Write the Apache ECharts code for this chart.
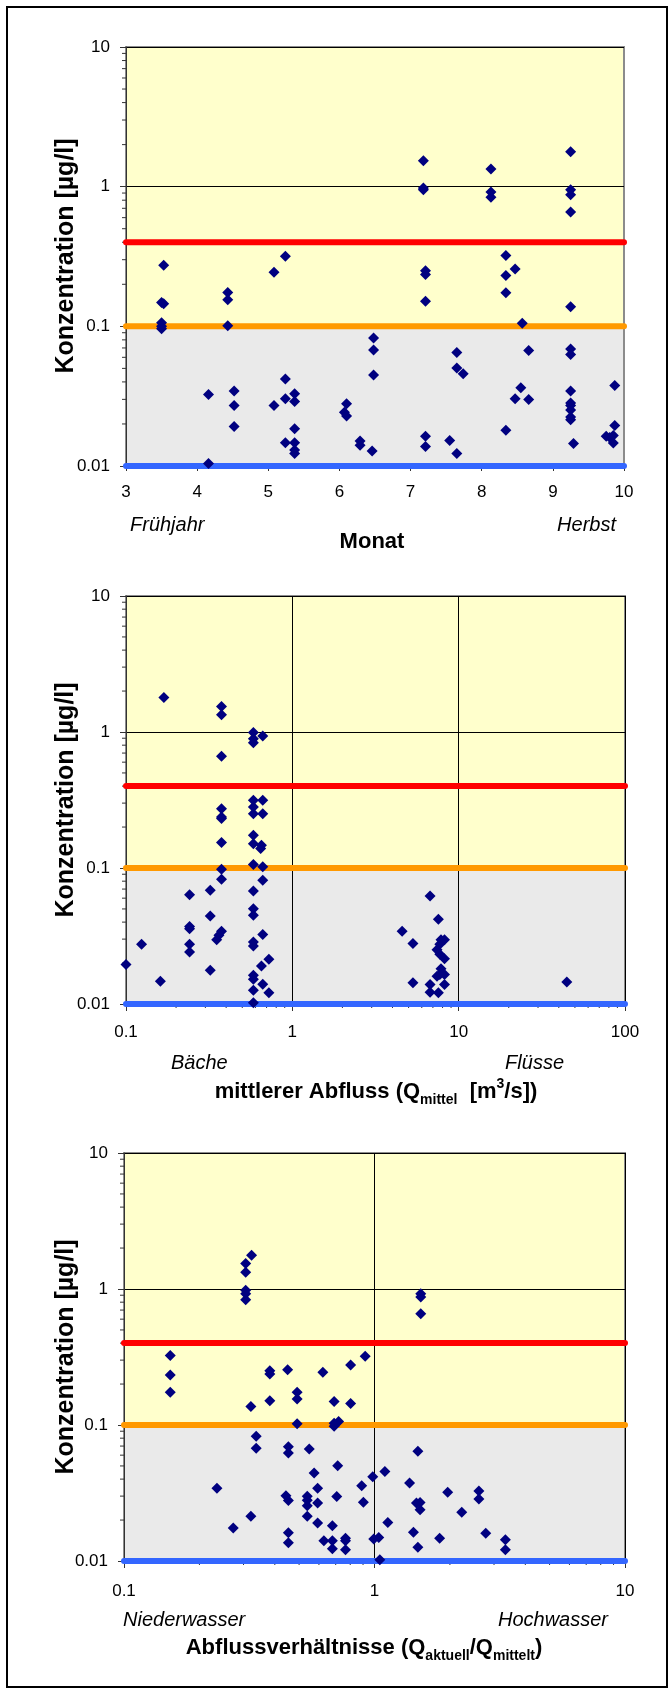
<!DOCTYPE html>
<html>
<head>
<meta charset="utf-8">
<title>Konzentration</title>
<script src="https://cdn.jsdelivr.net/npm/echarts@6/dist/echarts.min.js"></script>
<style>
  * { margin: 0; padding: 0; }
  body { background: #fff; }
  #main { width: 672px; height: 1693px; }
</style>
</head>
<body>
<div id="main"></div>
<script>
// Diagramm 1: Monat
var monatX = [3.53, 5.08, 5.24, 7.18, 7.18, 7.18, 7.21, 7.21, 8.13, 8.13, 8.13, 8.34, 8.47, 8.34, 9.25, 9.25, 9.25, 9.25,
  3.50, 3.53, 3.50, 3.50, 3.50, 4.43, 4.43, 4.43, 7.21, 8.34, 9.25, 8.57,
  6.48, 6.48, 6.48, 7.65, 7.65, 7.74, 8.66, 9.25, 9.25, 9.87,
  5.24, 4.52, 4.16, 5.37, 5.24, 5.37, 5.08, 4.52, 4.52,
  6.10, 6.07, 6.10, 5.37, 5.24, 5.37, 5.37, 5.37,
  6.29, 6.29, 6.46, 4.16,
  8.55, 8.47, 8.66, 8.34, 7.21, 7.21, 7.55, 7.65,
  9.25, 9.25, 9.25, 9.25, 9.25, 9.25, 9.29,
  9.87, 9.75, 9.85, 9.80, 9.85];
var monatY = [0.274, 0.244, 0.318, 1.53, 0.98, 0.95, 0.25, 0.235, 1.34, 0.916, 0.839, 0.321, 0.257, 0.231, 1.78, 0.95, 0.877, 0.659,
  0.148, 0.145, 0.106, 0.100, 0.096, 0.175, 0.155, 0.101, 0.151, 0.174, 0.138, 0.105,
  0.0826, 0.0678, 0.0449, 0.0649, 0.0504, 0.0457, 0.067, 0.0689, 0.0628, 0.0377,
  0.042, 0.0344, 0.0325, 0.0329, 0.0303, 0.029, 0.0271, 0.0271, 0.0192,
  0.0279, 0.0243, 0.0228, 0.0185, 0.0147, 0.0147, 0.0130, 0.0123,
  0.0151, 0.0141, 0.0128, 0.0104,
  0.0363, 0.0303, 0.0299, 0.018, 0.0163, 0.0138, 0.0152, 0.0123,
  0.0344, 0.0282, 0.0271, 0.0252, 0.0224, 0.0214, 0.0145,
  0.0195, 0.0163, 0.0165, 0.016, 0.0146];

// Diagramm 2: mittlerer Abfluss [m3/s]
var abflussX = [0.169, 0.375, 0.375, 0.375, 0.583, 0.583, 0.583, 0.664,
  0.375, 0.375, 0.375, 0.375, 0.375, 0.375,
  0.321, 0.241, 0.321, 0.241, 0.241, 0.375, 0.362, 0.351, 0.124, 0.241, 0.241, 0.1, 0.321, 0.161,
  0.583, 0.583, 0.583, 0.583, 0.583, 0.583, 0.583, 0.583, 0.583, 0.583, 0.583, 0.583, 0.583, 0.583, 0.583,
  0.664, 0.664, 0.652, 0.645, 0.664, 0.664, 0.664, 0.652, 0.664,
  0.723, 0.723,
  6.73, 7.55, 4.57, 5.31, 7.83, 8.22, 7.7, 7.41, 7.7, 8.22, 7.83, 7.7, 8.22, 7.41, 5.31, 6.73, 8.22, 6.73, 7.55, 44.7];
var abflussY = [1.79, 1.54, 1.34, 0.662, 0.99, 0.893, 0.835, 0.935,
  0.273, 0.237, 0.231, 0.154, 0.098, 0.0826,
  0.0686, 0.0637, 0.0444, 0.0372, 0.0358, 0.0342, 0.032, 0.0297, 0.0275, 0.0275, 0.0241, 0.0195, 0.0177, 0.0147,
  0.315, 0.281, 0.251, 0.174, 0.151, 0.106, 0.0678, 0.0502, 0.0449, 0.0286, 0.0267, 0.0163, 0.0152, 0.0126, 0.0102,
  0.315, 0.251, 0.147, 0.139, 0.102, 0.0812, 0.0325, 0.019, 0.014,
  0.0213, 0.0121,
  0.0623, 0.042, 0.0342, 0.0278, 0.0297, 0.0297, 0.0275, 0.0251, 0.0232, 0.0215, 0.0182, 0.0165, 0.0165, 0.016, 0.0143, 0.0139, 0.0139, 0.0122, 0.0121, 0.0145];

// Diagramm 3: Abflussverhaeltnisse Q aktuell / Q mittel
var ratioX = [0.306, 0.323, 0.306, 0.306, 0.306, 0.306, 1.53, 1.53, 1.53,
  0.153, 0.153, 0.153, 0.918, 0.803, 0.45, 0.382, 0.382, 0.622, 0.491, 0.491, 0.382, 0.69, 0.803, 0.321, 0.491, 0.69, 0.719, 0.69,
  0.337, 0.337, 0.453, 0.453, 0.549, 1.49, 0.713, 0.574, 1.1, 0.984,
  0.235, 0.593, 0.889, 1.38, 0.443, 0.453, 0.539, 0.539, 0.539, 0.593, 0.707, 0.903,
  1.96, 2.61, 2.61, 1.47, 1.52, 1.52, 2.23,
  0.321, 0.539, 0.273, 0.593, 0.679, 1.13,
  0.453, 0.453, 0.628, 0.679, 0.679, 0.766, 0.766, 0.766, 0.993, 1.04, 1.05,
  1.43, 1.49, 1.82, 2.78, 3.33, 3.33];
var ratioY = [1.54, 1.77, 1.33, 0.978, 0.924, 0.835, 0.924, 0.874, 0.659,
  0.324, 0.233, 0.174, 0.32, 0.276, 0.255, 0.251, 0.237, 0.244, 0.174, 0.155, 0.151, 0.149, 0.144, 0.137, 0.102, 0.103, 0.106, 0.098,
  0.0826, 0.0674, 0.0693, 0.0623, 0.0666, 0.064, 0.0502, 0.0444, 0.0456, 0.0417,
  0.0342, 0.0342, 0.0358, 0.0375, 0.0302, 0.0278, 0.0299, 0.028, 0.0255, 0.0267, 0.0298, 0.027,
  0.032, 0.0327, 0.0286, 0.0267, 0.0269, 0.0238, 0.0228,
  0.0213, 0.0213, 0.0175, 0.019, 0.0182, 0.0192,
  0.0161, 0.0136, 0.0141, 0.0141, 0.0123, 0.0147, 0.0141, 0.0121, 0.0145, 0.0149, 0.0102,
  0.0163, 0.0126, 0.0147, 0.016, 0.0143, 0.0121];

// Grenzwerte (Linien) und Hintergrundbereiche
var grenzwerte = [0.4, 0.1, 0.01];
var grenzFarben = ['#FF0000', '#FF9900', '#3366FF'];
var bereiche = [[0.1, 10], [0.01, 0.1]];
var bereichFarben = ['#FFFFCC', '#EAEAEA'];

var FONT = '"Liberation Sans", Arial, Helvetica, sans-serif';

var panels = [
  { xs: monatX, ys: monatY, xType: 'value', xMin: 3, xMax: 10, grid: { left: 126, top: 47, width: 498, height: 419 }, labelMargin: 18 },
  { xs: abflussX, ys: abflussY, xType: 'log', xMin: 0.1, xMax: 100, grid: { left: 126, top: 596, width: 499, height: 408 }, labelMargin: 20 },
  { xs: ratioX, ys: ratioY, xType: 'log', xMin: 0.1, xMax: 10, grid: { left: 124, top: 1153, width: 501, height: 408 }, labelMargin: 22 }
];

// Zwischenstriche 2..9 je Dekade
function minorLog(lo, hi) {
  var out = [];
  for (var d = lo; d < hi * 0.999; d *= 10) {
    for (var m = 2; m <= 9; m++) out.push(parseFloat((m * d).toPrecision(3)));
  }
  return out;
}

var grids = [], xAxes = [], yAxes = [], series = [];

panels.forEach(function (p, i) {
  grids.push({
    show: true, z: 1,
    left: p.grid.left, top: p.grid.top, width: p.grid.width, height: p.grid.height,
    backgroundColor: 'transparent', borderColor: '#8C8C8C', borderWidth: 2
  });

  var logX = p.xType === 'log';
  xAxes.push({
    gridIndex: i, type: p.xType, min: p.xMin, max: p.xMax, z: 2,
    interval: logX ? undefined : 1, logBase: 10,
    axisLine: { show: true, lineStyle: { color: '#333', width: 1 } },
    axisTick: { show: true, length: logX ? 7 : 5, lineStyle: { color: '#333' } },
    axisLabel: { color: '#000', fontSize: 17, fontFamily: FONT, margin: p.labelMargin },
    splitLine: { show: logX, lineStyle: { color: '#000', width: 1 } }
  });
  yAxes.push({
    gridIndex: i, type: 'log', min: 0.01, max: 10, logBase: 10, z: 2,
    axisLine: { show: true, lineStyle: { color: '#333', width: 1 } },
    axisTick: { show: true, length: 6, lineStyle: { color: '#333' } },
    axisLabel: { color: '#000', fontSize: 17, fontFamily: FONT, margin: 16 },
    splitLine: { show: true, lineStyle: { color: '#000', width: 1 } }
  });

  // Hintergrund (gelb / grau)
  series.push({
    type: 'custom', xAxisIndex: i, yAxisIndex: i, z: 0, silent: true, clip: false,
    data: bereiche.map(function (b, k) { return [p.xMin, b[0], b[1], k]; }),
    encode: { x: 0, y: [1, 2] },
    renderItem: function (params, api) {
      var cs = params.coordSys;
      var y1 = api.coord([p.xMin, api.value(2)])[1];
      var y0 = api.coord([p.xMin, api.value(1)])[1];
      return {
        type: 'rect',
        shape: { x: cs.x, y: y1, width: cs.width, height: y0 - y1 },
        style: { fill: bereichFarben[api.value(3)] }
      };
    }
  });

  // Zwischenstriche y-Achse
  series.push({
    type: 'custom', xAxisIndex: i, yAxisIndex: i, z: 3, silent: true, clip: false,
    data: minorLog(0.01, 10).map(function (v) { return [p.xMin, v]; }),
    renderItem: function (params, api) {
      var pt = api.coord([api.value(0), api.value(1)]);
      return { type: 'line', shape: { x1: pt[0] - 4, y1: pt[1], x2: pt[0], y2: pt[1] }, style: { stroke: '#333', lineWidth: 1 } };
    }
  });

  // Zwischenstriche x-Achse (log)
  if (logX) {
    series.push({
      type: 'custom', xAxisIndex: i, yAxisIndex: i, z: 3, silent: true, clip: false,
      data: minorLog(p.xMin, p.xMax).map(function (v) { return [v, 0.01]; }),
      renderItem: function (params, api) {
        var pt = api.coord([api.value(0), api.value(1)]);
        return { type: 'line', shape: { x1: pt[0], y1: pt[1], x2: pt[0], y2: pt[1] + 4 }, style: { stroke: '#333', lineWidth: 1 } };
      }
    });
  }

  // Grenzwertlinien
  grenzwerte.forEach(function (g, k) {
    series.push({
      type: 'line', xAxisIndex: i, yAxisIndex: i, z: 3, silent: true, clip: false,
      symbol: 'none', animation: false,
      data: [[p.xMin, g], [p.xMax, g]],
      lineStyle: { color: grenzFarben[k], width: 6, cap: 'round' }
    });
  });

  // Messwerte
  series.push({
    type: 'scatter', xAxisIndex: i, yAxisIndex: i, z: 4, clip: false,
    symbol: 'diamond', symbolSize: 11,
    itemStyle: { color: '#000080', opacity: 1 },
    data: p.xs.map(function (x, n) { return [x, p.ys[n]]; })
  });
});

function txt(x, y, text, opts) {
  return {
    type: 'text', x: x, y: y, z: 10, rotation: opts.rotation || 0,
    style: {
      text: text, align: opts.align || 'center', verticalAlign: 'middle',
      fontFamily: FONT, fontSize: opts.size || 20, fontWeight: opts.weight || 'normal',
      fontStyle: opts.style || 'normal', fill: '#000', rich: opts.rich
    }
  };
}

var titleRich = {
  b: { fontFamily: FONT, fontSize: 22, fontWeight: 'bold', lineHeight: 30, verticalAlign: 'middle' },
  s: { fontFamily: FONT, fontSize: 14, fontWeight: 'bold', lineHeight: 14, verticalAlign: 'bottom' },
  p: { fontFamily: FONT, fontSize: 14, fontWeight: 'bold', lineHeight: 14, verticalAlign: 'top' }
};

var yTitle = 'Konzentration [\u00b5g/l]';
var graphics = [
  { type: 'rect', z: 10, shape: { x: 7, y: 7, width: 660, height: 1680 }, style: { fill: 'none', stroke: '#000', lineWidth: 2 } },
  txt(66, 256, yTitle, { size: 25, weight: 'bold', rotation: Math.PI / 2 }),
  txt(66, 800, yTitle, { size: 25, weight: 'bold', rotation: Math.PI / 2 }),
  txt(66, 1357, yTitle, { size: 25, weight: 'bold', rotation: Math.PI / 2 }),
  txt(130, 525, 'Frühjahr', { style: 'italic', align: 'left' }),
  txt(616, 525, 'Herbst', { style: 'italic', align: 'right' }),
  txt(372, 542, 'Monat', { size: 22, weight: 'bold' }),
  txt(171, 1063, 'Bäche', { style: 'italic', align: 'left' }),
  txt(564, 1063, 'Flüsse', { style: 'italic', align: 'right' }),
  txt(376, 1092, '{b|mittlerer Abfluss (Q}{s|mittel}{b|  [m}{p|3}{b|/s])}', { rich: titleRich }),
  txt(123, 1620, 'Niederwasser', { style: 'italic', align: 'left' }),
  txt(608, 1620, 'Hochwasser', { style: 'italic', align: 'right' }),
  txt(364, 1648, '{b|Abflussverhältnisse (Q}{s|aktuell}{b|/Q}{s|mittelt}{b|)}', { rich: titleRich })
];

var chart = echarts.init(document.getElementById('main'));
chart.setOption({
  animation: false,
  backgroundColor: '#fff',
  grid: grids,
  xAxis: xAxes,
  yAxis: yAxes,
  series: series,
  graphic: graphics
});
</script>
</body>
</html>
